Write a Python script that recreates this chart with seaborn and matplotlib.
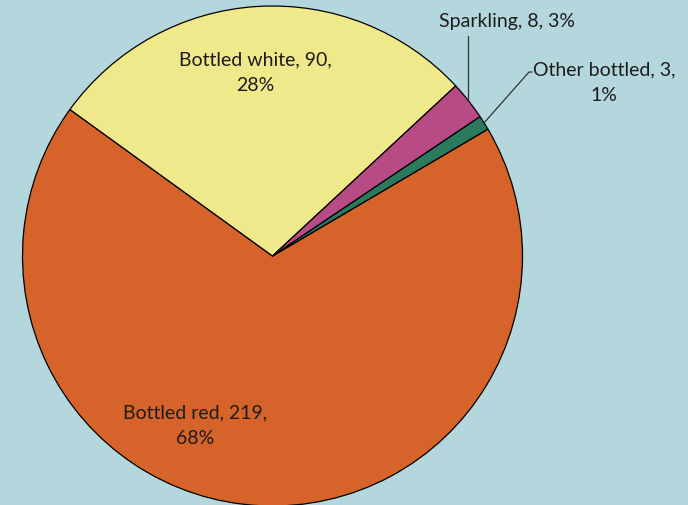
import numpy as np
import matplotlib
matplotlib.use("Agg")
import matplotlib.pyplot as plt
import seaborn as sns

# Wine sales by type
categories = ["Bottled red", "Bottled white", "Sparkling", "Other bottled"]
values = [219, 90, 8, 3]
colors = ["#d66329", "#f0e98c", "#b84a86", "#2c7a5d"]

BG = "#b4d7dd"
TEXT = "#1c1c1c"

sns.set_theme(style="white")
plt.rcParams["font.family"] = ["Lato", "DejaVu Sans"]

W, H = 688, 505
fig = plt.figure(figsize=(W / 100, H / 100), dpi=100, facecolor=BG)
ax = fig.add_axes([0, 0, 1, 1])
ax.set_facecolor(BG)

cx, cy, R = 272.5, H - 256, 250
wedges, _ = ax.pie(
    values,
    colors=colors,
    startangle=30.5,
    counterclock=False,
    center=(cx, cy),
    radius=R,
    wedgeprops=dict(edgecolor="black", linewidth=0.9),
    frame=True,
)
ax.set_xlim(0, W)
ax.set_ylim(0, H)
ax.set_aspect("equal")
ax.axis("off")

total = sum(values)


def pct(v):
    return int(100 * v / total + 0.5)


def label_text(name, v, sep=",\n"):
    return f"{name}, {v}{sep}{pct(v)}%"


fs = 14
ls = 1.62
# Inside labels
ax.text(195, H - 426, label_text(categories[0], values[0]), ha="center", va="center",
        fontsize=fs, color=TEXT, linespacing=ls)
ax.text(255, H - 73, label_text(categories[1], values[1]), ha="center", va="center",
        fontsize=fs, color=TEXT, linespacing=ls)


def edge_point(w):
    mid = np.deg2rad((w.theta1 + w.theta2) / 2)
    return cx + R * np.cos(mid), cy + R * np.sin(mid)


# Sparkling: vertical leader up to the label
px, py = edge_point(wedges[2])
ax.plot([px, px], [py, H - 36], color="#333333", lw=0.9)
ax.text(507, H - 22, label_text(categories[2], values[2], sep=", "), ha="center", va="center",
        fontsize=fs, color=TEXT)

# Other bottled: angled leader with short horizontal tail
px, py = edge_point(wedges[3])
ax.plot([px, 529, 532], [py, H - 72, H - 72], color="#333333", lw=0.9)
ax.text(604, H - 83, label_text(categories[3], values[3]), ha="center", va="center",
        fontsize=fs, color=TEXT, linespacing=ls)

fig.savefig("out.png", dpi=100, facecolor=BG)
